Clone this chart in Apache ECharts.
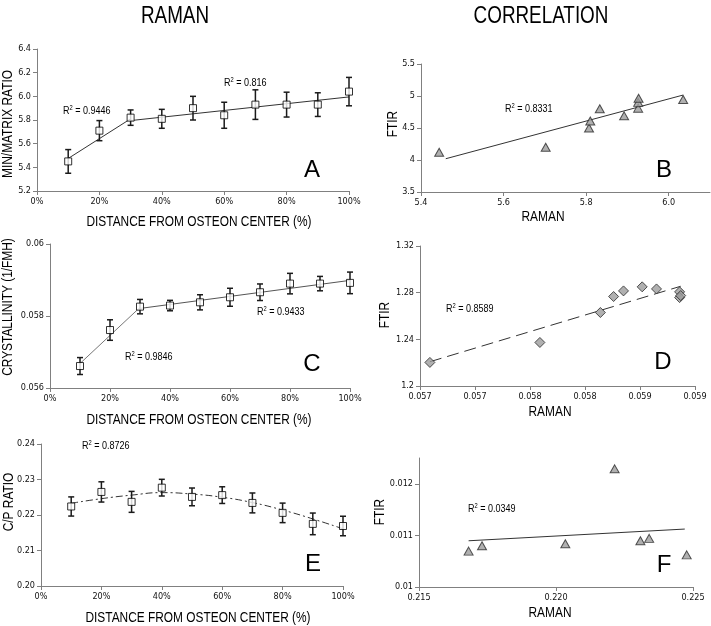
<!DOCTYPE html>
<html><head><meta charset="utf-8">
<script src="https://cdn.jsdelivr.net/npm/echarts@6/dist/echarts.min.js"></script>
<style>html,body{margin:0;padding:0;background:#fff}#c{width:711px;height:626px}</style>
</head><body><div id="c"></div>
<script>
// ---------- DATA ----------
const distance = [10, 20, 30, 40, 50, 60, 70, 80, 90, 100];
const distTicks = ['0%', '20%', '40%', '60%', '80%', '100%'];

// Panel A : mineral/matrix ratio
const aMean = [5.45, 5.71, 5.82, 5.81, 5.90, 5.84, 5.93, 5.93, 5.93, 6.04];
const aErr  = [0.10, 0.085, 0.065, 0.08, 0.10, 0.11, 0.125, 0.105, 0.10, 0.12];
const aTrend1 = [[10, 5.475], [30, 5.81]];
const aTrend2 = [[30, 5.795], [100, 5.995]];
const aYTicks = ['5.2', '5.4', '5.6', '5.8', '6.0', '6.2', '6.4'];

// Panel B : correlation Raman vs FTIR (min/matrix)
const bRaman = [5.444, 5.702, 5.807, 5.81, 5.833, 5.892, 5.926, 5.926, 5.927, 6.035];
const bFtir  = [4.12, 4.20, 4.50, 4.61, 4.80, 4.69, 4.81, 4.90, 4.965, 4.944];
const bTrend = [[5.46, 4.02], [6.035, 5.015]];
const bXTicks = ['5.4', '5.6', '5.8', '6.0', ''];
const bYTicks = ['3.5', '4', '4.5', '5', '5.5'];

// Panel C : crystallinity
const cMean = [0.05661, 0.05761, 0.05826, 0.05829, 0.05838, 0.05852, 0.05866, 0.0589, 0.0589, 0.05892];
const cErr  = [0.000235, 0.000285, 0.0002, 0.000145, 0.00021, 0.00025, 0.00023, 0.000285, 0.0002, 0.0003];
const cTrend1 = [[10, 0.05668], [30, 0.05824]];
const cTrend2 = [[30, 0.05821], [100, 0.05899]];
const cYTicks = ['0.056', '0.058', '0.06'];

// Panel D : correlation crystallinity
const dRaman = [0.05659, 0.05759, 0.05814, 0.05826, 0.05835, 0.05852, 0.05865, 0.05886, 0.05886, 0.05887];
const dFtir  = [1.2202, 1.2373, 1.263, 1.2767, 1.2815, 1.285, 1.2832, 1.2807, 1.2758, 1.2775];
const dTrend = [[0.05659, 1.2208], [0.05887, 1.2855]];
const dXTicks = ['0.057', '0.057', '0.058', '0.058', '0.059', '0.059'];
const dYTicks = ['1.2', '1.24', '1.28', '1.32'];

// Panel E : C/P ratio
const eMean = [0.2224, 0.2265, 0.2237, 0.2277, 0.2251, 0.2256, 0.2234, 0.2206, 0.2175, 0.2169];
const eErr  = [0.0027, 0.00285, 0.00295, 0.00235, 0.0025, 0.00235, 0.0028, 0.00275, 0.00305, 0.00275];
const eTrend = [[10, 0.2233], [20, 0.2246], [30, 0.2256], [40, 0.2263], [50, 0.2259], [60, 0.2250], [70, 0.2235], [80, 0.2214], [90, 0.2189], [100, 0.2161]];
const eYTicks = ['0.20', '0.21', '0.22', '0.23', '0.24'];

// Panel F : correlation C/P
const fRaman = [0.21681, 0.2173, 0.22034, 0.22214, 0.22308, 0.2234, 0.22477];
const fFtir  = [0.010695, 0.0108, 0.010838, 0.01229, 0.010896, 0.010942, 0.010623];
const fTrend = [[0.21681, 0.010896], [0.2247, 0.011123]];
const fXTicks = ['0.215', '0.220', '0.225'];
const fYTicks = ['0.01', '0.011', '0.012', ''];

const r2Labels = [
  ['0.9446', 63, 111], ['0.816', 224, 83], ['0.8331', 505, 109],
  ['0.9846', 125, 357], ['0.9433', 257, 312], ['0.8589', 446, 309],
  ['0.8726', 82, 446], ['0.0349', 468, 509]
];

// ---------- BUILD ----------
const NARROW = "'DejaVu Sans Condensed','Liberation Sans Narrow',sans-serif";
const SANS = "'Liberation Sans',Arial,sans-serif";
const SQUEEZE = 0.82;
const AXC = '#808080';

const grids = [
  {left: 37, top: 49, width: 312, height: 142},
  {left: 421, top: 64, width: 289, height: 128},
  {left: 50, top: 244, width: 300, height: 144},
  {left: 420, top: 246, width: 275, height: 140},
  {left: 41, top: 444, width: 302, height: 142},
  {left: 419, top: 458, width: 274, height: 129}
];

function axis(gi, min, max, interval, labels, extra) {
  return Object.assign({
    gridIndex: gi, type: 'value', min: min, max: max, interval: interval,
    axisLine: {show: true, onZero: false, lineStyle: {color: AXC, width: 1}},
    axisTick: {show: true, length: 4, lineStyle: {color: AXC}},
    splitLine: {show: false},
    axisLabel: {
      fontSize: 9, color: '#111', fontFamily: NARROW, margin: 6,
      formatter: function (v) { const k = Math.round((v - min) / interval); return labels[k] !== undefined ? labels[k] : ''; }
    }
  }, extra || {});
}

const xAxes = [
  axis(0, 0, 100, 20, distTicks),
  axis(1, 5.4, 6.1, 0.2, bXTicks, {}),
  axis(2, 0, 100, 20, distTicks),
  axis(3, 0.0565, 0.059, 0.0005, dXTicks),
  axis(4, 0, 100, 20, distTicks),
  axis(5, 0.215, 0.225, 0.005, fXTicks)
];
xAxes[1].axisLabel.showMaxLabel = false;
const yAxes = [
  axis(0, 5.2, 6.4, 0.2, aYTicks),
  axis(1, 3.5, 5.5, 0.5, bYTicks),
  axis(2, 0.056, 0.06, 0.002, cYTicks),
  axis(3, 1.2, 1.32, 0.04, dYTicks),
  axis(4, 0.20, 0.24, 0.01, eYTicks),
  axis(5, 0.01, 0.0125, 0.001, fYTicks)
];
yAxes[5].axisLabel.showMaxLabel = false;

function errSeries(gi, mean, err) {
  return {
    type: 'custom', xAxisIndex: gi, yAxisIndex: gi, z: 3,
    data: distance.map((d, i) => [d, mean[i] - err[i], mean[i] + err[i]]),
    renderItem: function (params, api) {
      const lo = api.coord([api.value(0), api.value(1)]);
      const hi = api.coord([api.value(0), api.value(2)]);
      const w = 3;
      const st = {stroke: '#1a1a1a', lineWidth: 1.5};
      return {type: 'group', children: [
        {type: 'line', shape: {x1: lo[0], y1: lo[1], x2: hi[0], y2: hi[1]}, style: st},
        {type: 'line', shape: {x1: lo[0] - w, y1: lo[1], x2: lo[0] + w, y2: lo[1]}, style: st},
        {type: 'line', shape: {x1: hi[0] - w, y1: hi[1], x2: hi[0] + w, y2: hi[1]}, style: st}
      ]};
    }
  };
}
function trend(gi, data, type, color, smooth) {
  return {type: 'line', xAxisIndex: gi, yAxisIndex: gi, data: data, symbol: 'none', smooth: !!smooth, z: 2,
    lineStyle: {color: color || '#333', width: 1, type: type || 'solid'}};
}
function squares(gi, mean) {
  return {type: 'scatter', xAxisIndex: gi, yAxisIndex: gi, z: 5, symbol: 'rect', symbolSize: 7,
    data: distance.map((d, i) => [d, mean[i]]),
    itemStyle: {color: '#fff', borderColor: '#000', borderWidth: 1}};
}
function pts(gi, xs, ys, symbol, size) {
  return {type: 'scatter', xAxisIndex: gi, yAxisIndex: gi, z: 5, symbol: symbol, symbolSize: size,
    data: xs.map((x, i) => [x, ys[i]]),
    itemStyle: {color: '#9c9c9c', borderColor: '#2a2a2a', borderWidth: 1}};
}

const series = [
  trend(0, aTrend1), trend(0, aTrend2), errSeries(0, aMean, aErr), squares(0, aMean),
  trend(1, bTrend), pts(1, bRaman, bFtir, 'triangle', [9, 8]),
  trend(2, cTrend1, 'solid', '#777'), trend(2, cTrend2, 'solid', '#555'), errSeries(2, cMean, cErr), squares(2, cMean),
  trend(3, dTrend, [12, 6]), pts(3, dRaman, dFtir, 'diamond', [10, 10]),
  trend(4, eTrend, [7, 3, 2, 3], '#333', true), errSeries(4, eMean, eErr), squares(4, eMean),
  trend(5, fTrend), pts(5, fRaman, fFtir, 'triangle', [9, 8])
];

function txt(text, x, y, size, narrow, rot) {
  return {type: 'text', x: x, y: y, rotation: rot || 0, scaleX: narrow ? SQUEEZE : 1, z: 10,
    style: {text: text, fill: '#000', font: size + 'px ' + SANS, align: 'center', verticalAlign: 'middle'}};
}
const graphics = [
  txt('RAMAN', 175, 17, 23, true), txt('CORRELATION', 541, 17, 23, true),
  txt('MIN/MATRIX RATIO', 8, 124, 14.5, true, Math.PI / 2),
  txt('CRYSTALLINITY (1/FMH)', 8, 307, 14.5, true, Math.PI / 2),
  txt('C/P RATIO', 9, 502, 14.5, true, Math.PI / 2),
  txt('FTIR', 393, 124, 14.5, true, Math.PI / 2),
  txt('FTIR', 385, 315, 14.5, true, Math.PI / 2),
  txt('FTIR', 380, 512, 14.5, true, Math.PI / 2),
  txt('DISTANCE FROM OSTEON CENTER (%)', 199, 222, 14.5, true),
  txt('DISTANCE FROM OSTEON CENTER (%)', 199, 420, 14.5, true),
  txt('DISTANCE FROM OSTEON CENTER (%)', 198, 618, 14.5, true),
  txt('RAMAN', 543, 217, 14.5, true), txt('RAMAN', 550, 412, 14.5, true), txt('RAMAN', 550, 613, 14.5, true),
  txt('A', 312, 170, 24, false), txt('B', 664, 170, 24, false), txt('C', 312, 364, 24, false),
  txt('D', 663, 362, 24, false), txt('E', 313, 564, 24, false), txt('F', 664, 565, 24, false)
];
r2Labels.forEach(function (r) {
  graphics.push({type: 'text', x: r[1], y: r[2], scaleX: SQUEEZE, z: 10, style: {
    text: '{r|R}{s|2}{r| = ' + r[0] + '}', align: 'left', verticalAlign: 'middle',
    rich: {r: {fontSize: 11, fontFamily: SANS, fill: '#000', color: '#000', lineHeight: 12},
           s: {fontSize: 7, fontFamily: SANS, fill: '#000', color: '#000', lineHeight: 12, verticalAlign: 'top'}}
  }});
});

const chart = echarts.init(document.getElementById('c'), null, {renderer: 'canvas'});
chart.setOption({
  animation: false, backgroundColor: '#fff',
  grid: grids, xAxis: xAxes, yAxis: yAxes, series: series, graphic: graphics
});
</script></body></html>
